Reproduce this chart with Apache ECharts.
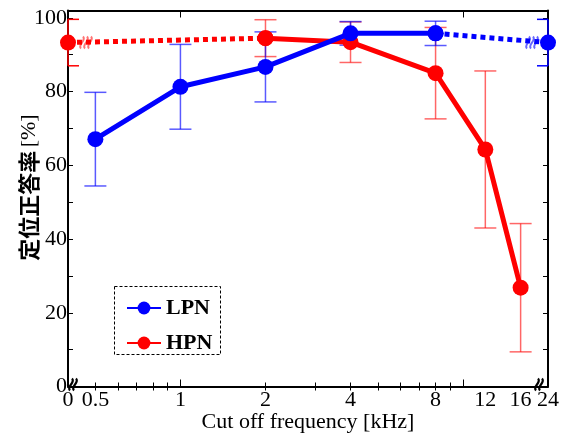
<!DOCTYPE html>
<html><head><meta charset="utf-8">
<script src="https://cdn.jsdelivr.net/npm/echarts@6/dist/echarts.min.js"></script>
<style>html,body{margin:0;padding:0;background:#fff}#c{width:572px;height:436px}</style>
</head><body><div id="c"></div>
<script>
// ---- data ----
const freqs = [0, 0.5, 1, 2, 4, 8, 12, 16, 24];          // kHz (0 = broadband low end, 24 = broadband high end)
const xTickLabels = ['0', '0.5', '1', '2', '4', '8', '12', '16', '24'];
const lpnMean = [null, 67.1, 81.3, 86.7, 95.8, 95.8, null, null, 93.3];
const lpnErr  = [null, 12.7, 11.5, 9.5, 3.2, 3.3, null, null, 6.3];
const hpnMean = [93.3, null, null, 94.5, 93.4, 85.0, 64.3, 26.8, null];
const hpnErr  = [6.3, null, null, 5.0, 5.5, 12.4, 21.3, 17.4, null];
const yTicks = [0, 20, 40, 60, 80, 100];

// ---- helpers ----
const XMIN = Math.log10(0.4), XMAX = Math.log10(20);
function pos(f) { return f === 0 ? XMIN : (f === 24 ? XMAX : Math.log10(f)); }
function pts(mean, idx) { return idx.map(i => [pos(freqs[i]), mean[i]]); }
function errData(mean, err) {
  const out = [];
  mean.forEach((m, i) => { if (m != null) out.push([pos(freqs[i]), m - err[i], m + err[i], (freqs[i] === 0 || freqs[i] === 24) ? 1 : 0]); });
  return out;
}
const majorTicks = [1, 10].map(Math.log10);
const minorF = [0.5, 0.6, 0.7, 0.8, 0.9, 2, 3, 4, 5, 6, 7, 8, 9];
const minorTicks = minorF.map(Math.log10);
const labelPos = freqs.map(pos);
function labelFor(v) {
  for (let i = 0; i < labelPos.length; i++) if (Math.abs(labelPos[i] - v) < 1e-6) return xTickLabels[i];
  return '';
}

const SERIF = '"Liberation Serif", "DejaVu Serif", serif';
const BLUE = '#0000ff', RED = '#ff0000';

function errRender(color, colorEnd) {
  return function (params, api) {
    const cs = params.coordSys;
    const x = api.value(0);
    const p1 = api.coord([x, api.value(1)]);
    const p2 = api.coord([x, api.value(2)]);
    const half = 11;
    const xl = Math.max(cs.x, p1[0] - half), xr = Math.min(cs.x + cs.width, p1[0] + half);
    const c = api.value(3) ? colorEnd : color;
    const st = { stroke: c, lineWidth: 1.5 };
    return { type: 'group', children: [
      { type: 'line', shape: { x1: p1[0], y1: p1[1], x2: p2[0], y2: p2[1] }, style: st },
      { type: 'line', shape: { x1: xl, y1: p1[1], x2: xr, y2: p1[1] }, style: st },
      { type: 'line', shape: { x1: xl, y1: p2[1], x2: xr, y2: p2[1] }, style: st }
    ]};
  };
}

function squiggles(cx, cy, n, color, lw) {
  const ch = [];
  for (let k = 0; k < n; k++) {
    const x = cx + (k - (n - 1) / 2) * 4;
    ch.push({ type: 'bezierCurve', shape: { x1: x + 1, y1: cy - 6, x2: x - 1, y2: cy + 6, cpx1: x + 5, cpy1: cy - 2, cpx2: x - 5, cpy2: cy + 2 },
      style: { stroke: color, lineWidth: lw, fill: null } });
  }
  return ch;
}
// break marks: [x, y, pixelOffset, colorIndex]
const breakColors = ['rgba(255,0,0,0.55)', 'rgba(0,0,255,0.6)', '#000'];
function breakRender(params, api) {
  const p = api.coord([api.value(0), api.value(1)]);
  const ci = api.value(3);
  return { type: 'group', children: squiggles(p[0] + api.value(2), p[1] + (ci === 2 ? -2 : 0), ci === 2 ? 2 : 3, breakColors[ci], ci === 2 ? 2.2 : 2) };
}
const breakData = [
  [pos(0), hpnMean[0], 18, 0],
  [pos(24), lpnMean[8], -16, 1],
  [pos(0), 0, 5, 2],
  [pos(24), 0, -9, 2]
];

const axisLineStyle = { color: '#000', width: 2 };
const chart = echarts.init(document.getElementById('c'));
chart.setOption({
  animation: false,
  grid: { left: 68, top: 10.5, width: 480, height: 376, containLabel: false, outerBoundsMode: 'none' },
  legend: {
    orient: 'vertical', left: 121, top: 292, itemGap: 13, itemWidth: 34, itemHeight: 16,
    data: ['LPN', 'HPN'],
    textStyle: { fontFamily: SERIF, fontSize: 22, fontWeight: 'bold', color: '#000' }
  },
  graphic: [{ type: 'rect', left: 112, top: 284, shape: { width: 106, height: 68 },
    style: { fill: null, stroke: '#000', lineWidth: 1, lineDash: [3, 2] }, z: 100 }],
  xAxis: [
    { type: 'value', min: XMIN, max: XMAX, position: 'bottom',
      name: 'Cut off frequency [kHz]', nameLocation: 'middle', nameGap: 25, nameMoveOverlap: false,
      nameTextStyle: { fontFamily: SERIF, fontSize: 22, color: '#000' },
      axisLine: { show: true, onZero: false, lineStyle: axisLineStyle },
      axisTick: { show: true, inside: true, length: 7, customValues: majorTicks, lineStyle: { color: '#000', width: 1 } },
      axisLabel: { customValues: labelPos, formatter: labelFor, margin: 3, fontFamily: SERIF, fontSize: 22, color: '#000' },
      splitLine: { show: false } },
    { type: 'value', min: XMIN, max: XMAX, position: 'bottom',
      axisLine: { show: false },
      axisTick: { show: true, inside: true, length: 4, customValues: minorTicks, lineStyle: { color: '#000', width: 1 } },
      axisLabel: { show: false }, splitLine: { show: false } },
    { type: 'value', min: XMIN, max: XMAX, position: 'top',
      axisLine: { show: true, onZero: false, lineStyle: axisLineStyle },
      axisTick: { show: true, inside: true, length: 7, customValues: majorTicks, lineStyle: { color: '#000', width: 1 } },
      axisLabel: { show: false }, splitLine: { show: false } },
    { type: 'value', min: XMIN, max: XMAX, position: 'top',
      axisLine: { show: false },
      axisTick: { show: true, inside: true, length: 4, customValues: minorTicks, lineStyle: { color: '#000', width: 1 } },
      axisLabel: { show: false }, splitLine: { show: false } }
  ],
  yAxis: [
    { type: 'value', min: 0, max: 102, position: 'left',
      name: '{a|定位正答率} {b|[%]}', nameLocation: 'middle', nameGap: 28, nameMoveOverlap: false,
      nameTextStyle: { color: '#000', padding: [0, 0, 0, 22], rich: {
        a: { fontFamily: '"Noto Sans CJK JP", sans-serif', fontWeight: 'bold', fontSize: 22, color: '#000' },
        b: { fontFamily: SERIF, fontSize: 22, color: '#000' } } },
      axisLine: { show: true, onZero: false, lineStyle: axisLineStyle },
      axisTick: { show: true, inside: true, length: 5, customValues: [0,10,20,30,40,50,60,70,80,90,100], lineStyle: { color: '#000', width: 1 } },
      axisLabel: { customValues: yTicks, margin: 1, fontFamily: SERIF, fontSize: 22, color: '#000' },
      splitLine: { show: false } },
    { type: 'value', min: 0, max: 102, position: 'right',
      axisLine: { show: true, onZero: false, lineStyle: axisLineStyle },
      axisTick: { show: true, inside: true, length: 5, customValues: [0,10,20,30,40,50,60,70,80,90,100], lineStyle: { color: '#000', width: 1 } },
      axisLabel: { show: false }, splitLine: { show: false } }
  ],
  series: [
    { type: 'custom', name: 'hpnErr', renderItem: errRender('rgba(255,0,0,0.6)', RED), data: errData(hpnMean, hpnErr), z: 1, silent: true },
    { type: 'custom', name: 'lpnErr', renderItem: errRender('rgba(0,0,255,0.65)', BLUE), data: errData(lpnMean, lpnErr), z: 1, silent: true },
    { type: 'line', name: 'HPN', data: pts(hpnMean, [3, 4, 5, 6, 7]), color: RED,
      lineStyle: { width: 5, color: RED }, symbol: 'circle', symbolSize: 16, itemStyle: { color: RED }, z: 3 },
    { type: 'line', name: 'HPNdot', data: pts(hpnMean, [0, 3]), color: RED,
      lineStyle: { width: 5, color: RED, type: [5, 4] }, symbol: 'circle', symbolSize: 16, itemStyle: { color: RED }, z: 3 },
    { type: 'line', name: 'LPN', data: pts(lpnMean, [1, 2, 3, 4, 5]), color: BLUE,
      lineStyle: { width: 5, color: BLUE }, symbol: 'circle', symbolSize: 16, itemStyle: { color: BLUE }, z: 4 },
    { type: 'line', name: 'LPNdot', data: pts(lpnMean, [5, 8]), color: BLUE,
      lineStyle: { width: 5, color: BLUE, type: [5, 4] }, symbol: 'circle', symbolSize: 16, itemStyle: { color: BLUE }, z: 4 },
    { type: 'custom', name: 'breaks', renderItem: breakRender, data: breakData, z: 6, silent: true }
  ]
});
</script></body></html>
